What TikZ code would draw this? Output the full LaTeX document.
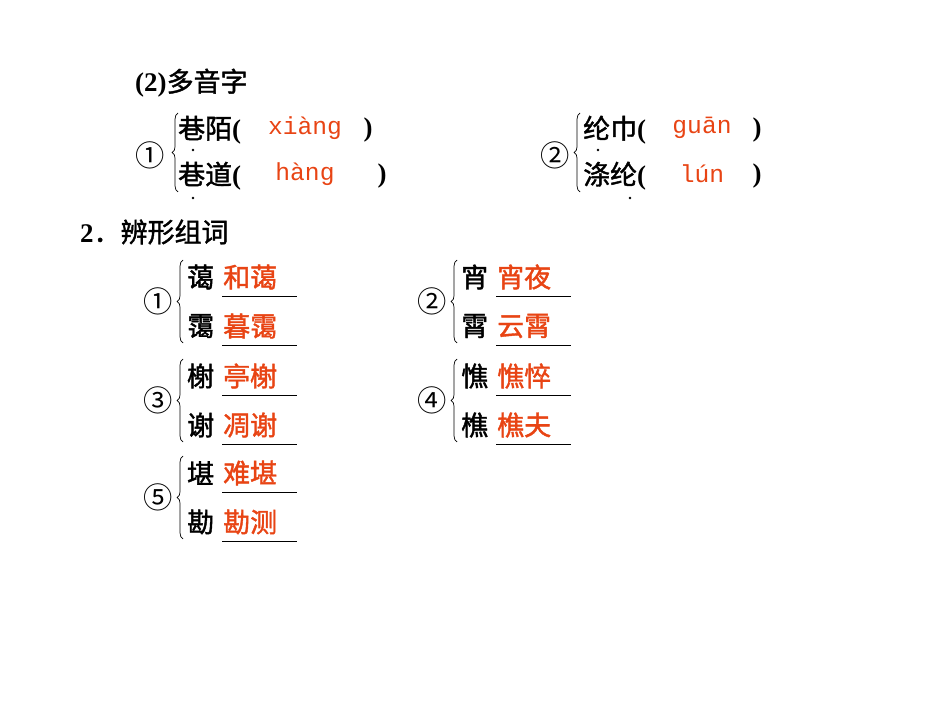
\documentclass[tikz,border=0pt]{standalone}
\usepackage{fontspec}
\usetikzlibrary{decorations.pathreplacing}
\setmainfont{Liberation Serif}
\newfontfamily\cjk{Noto Sans CJK SC}[AutoFakeBold=1.5]
\newfontfamily\py{Liberation Mono}
\definecolor{ans}{RGB}{232,68,20}
\begin{document}
\begin{tikzpicture}[x=0.03cm,y=-0.03cm,
  t/.style={anchor=west,inner sep=0,font=\cjk\bfseries\fontsize{23}{26}\selectfont},
  a/.style={anchor=west,inner sep=0,text=ans,font=\cjk\bfseries\fontsize{23}{26}\selectfont},
  p/.style={inner sep=0,text=ans,font=\py\fontsize{21}{24}\selectfont},
  pr/.style={inner sep=0,font=\bfseries\fontsize{23}{26}\selectfont},
  num/.style={inner sep=0,font=\cjk\fontsize{25}{28}\selectfont},
  br/.style={decorate,decoration={brace,amplitude=5pt},line width=0.6pt},
  ul/.style={line width=0.6pt},
  dt/.style={circle,fill,inner sep=0,minimum size=2.2pt}]
\useasboundingbox (0,0) rectangle (950,713);
\node[anchor=west,inner sep=0] (h1) at (135,83) {\bfseries\fontsize{23}{26}\selectfont (2)\cjk 多音字};
% polyphonic 1
\node[num] (c1) at (150,155) {①};
\draw[br] (178,192) -- (178,113);
\node[t] (w1) at (178,130) {巷陌\rmfamily\bfseries(};
\node[p] (p1) at (305,128) {xiàng};
\node[pr] (r1) at (368,130) {)};
\node[t] (w2) at (178,176) {巷道\rmfamily\bfseries(};
\node[p] (p2) at (305,174) {hàng};
\node[pr] (r2) at (382,176) {)};
\node[dt] (d1) at (193,150) {};
\node[dt] (d2) at (193,198) {};
% polyphonic 2
\node[num] (c2) at (555,155) {②};
\draw[br] (580,192) -- (580,113);
\node[t] (w3) at (583,130) {纶巾\rmfamily\bfseries(};
\node[p] (p3) at (702,128) {guān};
\node[pr] (r3) at (757,130) {)};
\node[t] (w4) at (583,176) {涤纶\rmfamily\bfseries(};
\node[p] (p4) at (702,174) {lún};
\node[pr] (r4) at (757,176) {)};
\node[dt] (d3) at (598,150) {};
\node[dt] (d4) at (630,198) {};
% heading 2
\node[anchor=west,inner sep=0] (h2) at (80,232) {\bfseries\fontsize{23}{26}\selectfont 2\cjk ．辨形组词};
% groups
\foreach \n/\cx/\cy/\ta/\aa/\tb/\ab in {
  ①/158/301/蔼/和蔼/霭/暮霭,
  ②/432/301/宵/宵夜/霄/云霄,
  ③/158/400/榭/亭榭/谢/凋谢,
  ④/432/400/憔/憔悴/樵/樵夫,
  ⑤/158/497/堪/难堪/勘/勘测}{
  \node[num] (n\cx\cy) at (\cx,\cy) {\n};
  \draw[br] (\cx+25,\cy+42) -- (\cx+25,\cy-41);
  \node[t] (ta\cx\cy) at (\cx+29,\cy-24) {\ta};
  \node[a] (aa\cx\cy) at (\cx+65,\cy-24) {\aa};
  \coordinate (ua\cx\cy) at (\cx+64,\cy-5);
  \coordinate (ub\cx\cy) at (\cx+139,\cy-5);
  \draw[ul] (ua\cx\cy) -- (ub\cx\cy);
  \node[t] (tb\cx\cy) at (\cx+29,\cy+25) {\tb};
  \node[a] (ab\cx\cy) at (\cx+65,\cy+25) {\ab};
  \coordinate (uc\cx\cy) at (\cx+64,\cy+44);
  \coordinate (ud\cx\cy) at (\cx+139,\cy+44);
  \draw[ul] (uc\cx\cy) -- (ud\cx\cy);
}
\end{tikzpicture}
\end{document}
